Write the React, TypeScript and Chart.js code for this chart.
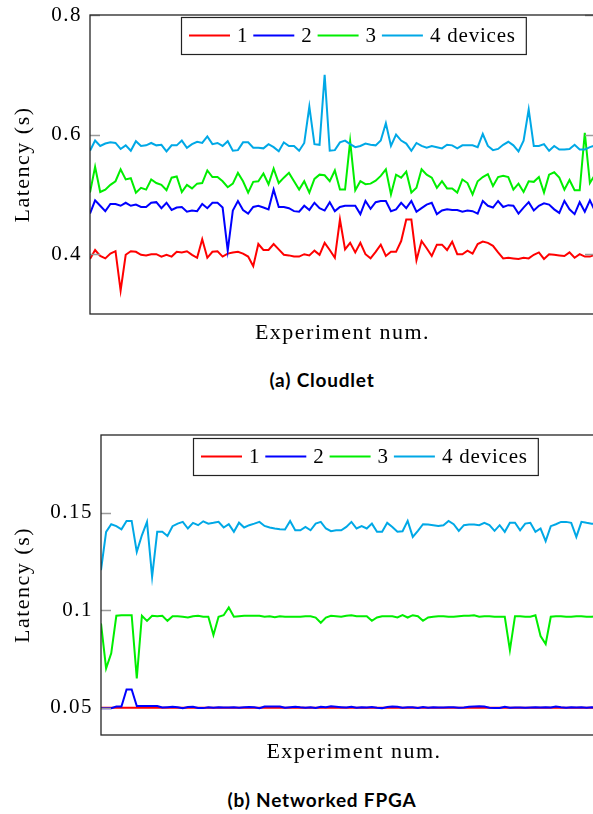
import React, { useEffect, useRef } from 'react';
import { Chart, registerables } from 'chart.js';

Chart.register(...registerables);

const SERIF = '"Liberation Serif", "DejaVu Serif", serif';

const SERIES_LABELS = ['1', '2', '3', '4 devices'];
const SERIES_COLORS = ['#ff0000', '#0000ff', '#00ee00', '#00a8e6'];
const EXPERIMENTS = Array.from({ length: 100 }, (_, i) => i + 1);

// (a) Cloudlet latency (s)
const CLOUDLET_1 = [
  0.392, 0.407, 0.397, 0.393, 0.401, 0.405, 0.339, 0.399, 0.405, 0.404,
  0.399, 0.398, 0.400, 0.400, 0.396, 0.399, 0.396, 0.404, 0.403, 0.405,
  0.399, 0.394, 0.425, 0.394, 0.404, 0.405, 0.396, 0.401, 0.403, 0.404,
  0.401, 0.396, 0.380, 0.417, 0.407, 0.407, 0.417, 0.408, 0.399, 0.398,
  0.396, 0.396, 0.400, 0.398, 0.406, 0.399, 0.419, 0.407, 0.394, 0.458,
  0.408, 0.419, 0.403, 0.419, 0.400, 0.393, 0.404, 0.416, 0.397, 0.404,
  0.404, 0.422, 0.458, 0.458, 0.390, 0.422, 0.410, 0.397, 0.416, 0.416,
  0.407, 0.421, 0.400, 0.400, 0.406, 0.401, 0.417, 0.421, 0.419, 0.414,
  0.403, 0.393, 0.394, 0.393, 0.392, 0.394, 0.393, 0.399, 0.403, 0.392,
  0.400, 0.399, 0.398, 0.397, 0.403, 0.394, 0.400, 0.396, 0.396, 0.399,
];
const CLOUDLET_2 = [
  0.468, 0.490, 0.481, 0.472, 0.484, 0.484, 0.481, 0.486, 0.481, 0.483,
  0.479, 0.479, 0.486, 0.487, 0.477, 0.486, 0.474, 0.478, 0.479, 0.471,
  0.473, 0.472, 0.484, 0.477, 0.486, 0.486, 0.478, 0.406, 0.473, 0.489,
  0.474, 0.468, 0.479, 0.481, 0.478, 0.475, 0.508, 0.479, 0.479, 0.477,
  0.472, 0.471, 0.481, 0.474, 0.486, 0.477, 0.473, 0.487, 0.472, 0.479,
  0.481, 0.481, 0.481, 0.467, 0.489, 0.476, 0.487, 0.489, 0.489, 0.472,
  0.475, 0.486, 0.477, 0.489, 0.471, 0.477, 0.483, 0.486, 0.467, 0.473,
  0.475, 0.474, 0.474, 0.471, 0.473, 0.472, 0.468, 0.489, 0.481, 0.478,
  0.489, 0.479, 0.482, 0.481, 0.468, 0.478, 0.487, 0.473, 0.481, 0.485,
  0.483, 0.475, 0.469, 0.489, 0.475, 0.467, 0.487, 0.471, 0.490, 0.472,
];
const CLOUDLET_3 = [
  0.503, 0.546, 0.504, 0.508, 0.516, 0.522, 0.542, 0.525, 0.527, 0.503,
  0.511, 0.508, 0.525, 0.519, 0.516, 0.507, 0.528, 0.530, 0.504, 0.516,
  0.510, 0.518, 0.519, 0.540, 0.529, 0.529, 0.522, 0.512, 0.518, 0.536,
  0.522, 0.503, 0.521, 0.522, 0.535, 0.517, 0.543, 0.519, 0.528, 0.536,
  0.522, 0.508, 0.522, 0.503, 0.526, 0.533, 0.532, 0.522, 0.540, 0.508,
  0.508, 0.589, 0.507, 0.522, 0.517, 0.518, 0.523, 0.531, 0.542, 0.500,
  0.533, 0.528, 0.538, 0.503, 0.511, 0.542, 0.533, 0.528, 0.511, 0.522,
  0.510, 0.510, 0.503, 0.525, 0.519, 0.500, 0.522, 0.529, 0.534, 0.514,
  0.529, 0.531, 0.529, 0.508, 0.518, 0.504, 0.522, 0.521, 0.529, 0.503,
  0.533, 0.537, 0.528, 0.508, 0.524, 0.507, 0.507, 0.603, 0.519, 0.533,
];
const CLOUDLET_4 = [
  0.573, 0.590, 0.581, 0.585, 0.587, 0.586, 0.576, 0.582, 0.573, 0.589,
  0.581, 0.582, 0.586, 0.582, 0.583, 0.572, 0.582, 0.582, 0.590, 0.578,
  0.584, 0.588, 0.586, 0.597, 0.584, 0.586, 0.581, 0.589, 0.573, 0.574,
  0.587, 0.587, 0.578, 0.578, 0.577, 0.584, 0.579, 0.572, 0.587, 0.581,
  0.581, 0.573, 0.586, 0.647, 0.584, 0.583, 0.700, 0.573, 0.574, 0.587,
  0.590, 0.584, 0.579, 0.581, 0.585, 0.583, 0.582, 0.590, 0.619, 0.581,
  0.600, 0.590, 0.585, 0.573, 0.586, 0.581, 0.578, 0.581, 0.579, 0.577,
  0.583, 0.582, 0.577, 0.582, 0.582, 0.582, 0.579, 0.601, 0.581, 0.574,
  0.576, 0.583, 0.588, 0.582, 0.572, 0.590, 0.642, 0.581, 0.581, 0.584,
  0.573, 0.581, 0.575, 0.575, 0.576, 0.583, 0.575, 0.575, 0.579, 0.582,
];

// (b) Networked FPGA latency (s)
const FPGA_1 = [
  0.05, 0.05, 0.05, 0.05, 0.05, 0.05, 0.05, 0.05, 0.05, 0.05,
  0.05, 0.05, 0.05, 0.05, 0.05, 0.05, 0.05, 0.05, 0.05, 0.05,
  0.05, 0.05, 0.05, 0.05, 0.05, 0.05, 0.05, 0.05, 0.05, 0.05,
  0.05, 0.05, 0.05, 0.05, 0.05, 0.05, 0.05, 0.05, 0.05, 0.05,
  0.05, 0.05, 0.05, 0.05, 0.05, 0.05, 0.05, 0.05, 0.05, 0.05,
  0.05, 0.05, 0.05, 0.05, 0.05, 0.05, 0.05, 0.05, 0.05, 0.05,
  0.05, 0.05, 0.05, 0.05, 0.05, 0.05, 0.05, 0.05, 0.05, 0.05,
  0.05, 0.05, 0.05, 0.05, 0.05, 0.05, 0.05, 0.05, 0.05, 0.05,
  0.05, 0.05, 0.05, 0.05, 0.05, 0.05, 0.05, 0.05, 0.05, 0.05,
  0.05, 0.05, 0.05, 0.05, 0.05, 0.05, 0.05, 0.05, 0.05, 0.05,
];
const FPGA_2 = [
  0.0497, 0.0497, 0.0497, 0.0506, 0.0506, 0.0594, 0.0594, 0.0509, 0.0509, 0.0509,
  0.0509, 0.0509, 0.0501, 0.0503, 0.0505, 0.0503, 0.0498, 0.0504, 0.0505, 0.0499,
  0.0498, 0.0503, 0.0500, 0.0502, 0.0501, 0.0501, 0.0503, 0.0500, 0.0502, 0.0504,
  0.0502, 0.0498, 0.0506, 0.0506, 0.0506, 0.0506, 0.0500, 0.0503, 0.0505, 0.0502,
  0.0500, 0.0503, 0.0499, 0.0505, 0.0502, 0.0507, 0.0505, 0.0503, 0.0501, 0.0505,
  0.0500, 0.0502, 0.0501, 0.0504, 0.0500, 0.0498, 0.0504, 0.0506, 0.0505, 0.0500,
  0.0503, 0.0502, 0.0499, 0.0504, 0.0500, 0.0502, 0.0501, 0.0501, 0.0503, 0.0502,
  0.0500, 0.0501, 0.0505, 0.0506, 0.0507, 0.0506, 0.0500, 0.0499, 0.0499, 0.0505,
  0.0500, 0.0501, 0.0501, 0.0500, 0.0501, 0.0502, 0.0501, 0.0503, 0.0501, 0.0506,
  0.0502, 0.0500, 0.0503, 0.0501, 0.0502, 0.0500, 0.0503, 0.0501, 0.0502, 0.0501,
];
const FPGA_3 = [
  0.0933, 0.0702, 0.0779, 0.0972, 0.0975, 0.0975, 0.0975, 0.0650, 0.0972, 0.0946,
  0.0972, 0.0970, 0.0972, 0.0946, 0.0970, 0.0970, 0.0967, 0.0963, 0.0970, 0.0972,
  0.0967, 0.0967, 0.0873, 0.0967, 0.0975, 0.1015, 0.0967, 0.0970, 0.0972, 0.0972,
  0.0972, 0.0972, 0.0967, 0.0970, 0.0965, 0.0970, 0.0967, 0.0967, 0.0967, 0.0967,
  0.0970, 0.0970, 0.0963, 0.0936, 0.0963, 0.0972, 0.0970, 0.0967, 0.0972, 0.0975,
  0.0970, 0.0970, 0.0970, 0.0946, 0.0963, 0.0970, 0.0970, 0.0970, 0.0963, 0.0975,
  0.0963, 0.0975, 0.0970, 0.0946, 0.0963, 0.0967, 0.0970, 0.0970, 0.0967, 0.0967,
  0.0970, 0.0972, 0.0972, 0.0975, 0.0967, 0.0970, 0.0970, 0.0967, 0.0967, 0.0967,
  0.0796, 0.0970, 0.0970, 0.0967, 0.0967, 0.0975, 0.0868, 0.0827, 0.0967, 0.0970,
  0.0970, 0.0967, 0.0967, 0.0970, 0.0970, 0.0967, 0.0967, 0.0970, 0.0970, 0.0970,
];
const FPGA_4 = [
  0.1206, 0.1403, 0.1442, 0.1432, 0.1416, 0.1459, 0.1459, 0.1300, 0.1385, 0.1454,
  0.1172, 0.1403, 0.1403, 0.1382, 0.1432, 0.1445, 0.1454, 0.1420, 0.1449, 0.1437,
  0.1457, 0.1445, 0.1449, 0.1454, 0.1425, 0.1442, 0.1403, 0.1450, 0.1425, 0.1437,
  0.1445, 0.1454, 0.1433, 0.1425, 0.1420, 0.1416, 0.1415, 0.1459, 0.1411, 0.1411,
  0.1428, 0.1411, 0.1445, 0.1454, 0.1420, 0.1406, 0.1411, 0.1411, 0.1428, 0.1454,
  0.1420, 0.1432, 0.1420, 0.1445, 0.1403, 0.1403, 0.1449, 0.1428, 0.1403, 0.1406,
  0.1459, 0.1377, 0.1408, 0.1442, 0.1440, 0.1437, 0.1433, 0.1437, 0.1459, 0.1442,
  0.1408, 0.1437, 0.1440, 0.1440, 0.1437, 0.1449, 0.1437, 0.1408, 0.1437, 0.1403,
  0.1450, 0.1450, 0.1411, 0.1445, 0.1449, 0.1403, 0.1420, 0.1355, 0.1432, 0.1442,
  0.1454, 0.1454, 0.1449, 0.1377, 0.1454, 0.1449, 0.1445, 0.1445, 0.1440, 0.1445,
];

const CLOUDLET_Y_TICKS = [0.4, 0.6, 0.8];
const CLOUDLET_Y_LABELS = ['0.4', '0.6', '0.8'];
const FPGA_Y_TICKS = [0.05, 0.1, 0.15];
const FPGA_Y_LABELS = ['0.05', '0.1', '0.15'];

const frameLegendPlugin = {
  id: 'frameLegend',
  beforeDraw(chart: any) {
    chart.ctx.letterSpacing = '1.5px';
  },
  afterDatasetsDraw(chart: any, _args: any, opts: any) {
    const { ctx, chartArea: a } = chart;
    const ys = chart.scales.y;
    ctx.save();
    // inward tick marks on left and right
    ctx.strokeStyle = '#9a9a9a';
    ctx.lineWidth = 1.5;
    ys.ticks.forEach((t: any) => {
      const py = Math.round(ys.getPixelForValue(t.value)) + 0.5;
      ctx.beginPath();
      ctx.moveTo(a.left, py);
      ctx.lineTo(a.left + 10, py);
      ctx.moveTo(a.right, py);
      ctx.lineTo(a.right - 10, py);
      ctx.stroke();
    });
    // frame
    ctx.strokeStyle = '#262626';
    ctx.lineWidth = 1.3;
    ctx.strokeRect(a.left, a.top, a.right - a.left, a.bottom - a.top);

    // legend
    ctx.font = `21px ${SERIF}`;
    ctx.letterSpacing = '0.8px';
    const left = a.left + opts.dx;
    const top = a.top + opts.dy;
    const h = 37;
    const yc = top + h / 2;
    let x = left + 8;
    const items: any[] = [];
    chart.data.datasets.forEach((ds: any) => {
      const w = ctx.measureText(ds.label).width;
      items.push({ x, label: ds.label, color: ds.borderColor, w });
      x += 41 + 7 + w + 5;
    });
    const boxW = x - left + 5;
    ctx.fillStyle = '#ffffff';
    ctx.fillRect(left, top, boxW, h);
    ctx.strokeStyle = '#222';
    ctx.lineWidth = 1.2;
    ctx.strokeRect(left + 0.5, top + 0.5, boxW, h);
    items.forEach((it) => {
      ctx.strokeStyle = it.color;
      ctx.lineWidth = 2;
      ctx.beginPath();
      ctx.moveTo(it.x, yc);
      ctx.lineTo(it.x + 41, yc);
      ctx.stroke();
      ctx.fillStyle = '#000';
      ctx.textAlign = 'left';
      ctx.textBaseline = 'middle';
      ctx.fillText(it.label, it.x + 48, yc + 1);
    });
    ctx.restore();
  },
};

type Props = {
  series: number[][];
  yMin: number;
  yMax: number;
  yTicks: number[];
  yLabels: string[];
  width: number;
  height: number;
  plotLeft: number;
  plotRight: number;
  xTitlePad: number;
  legendDx: number;
  legendDy: number;
};

function LatencyChart(p: Props) {
  const ref = useRef<HTMLCanvasElement>(null);
  useEffect(() => {
    const chart = new Chart(ref.current as HTMLCanvasElement, {
      type: 'line',
      data: {
        datasets: p.series.map((s, k) => ({
          label: SERIES_LABELS[k],
          data: s.map((v, i) => ({ x: EXPERIMENTS[i], y: v })),
          borderColor: SERIES_COLORS[k],
          backgroundColor: SERIES_COLORS[k],
          borderWidth: 2,
          pointRadius: 0,
          tension: 0,
          fill: false,
          order: 4 - k,
        })),
      },
      options: {
        animation: false,
        responsive: false,
        events: [],
        layout: { padding: { top: 15, right: p.width - p.plotRight, left: 0, bottom: 0 } },
        plugins: {
          legend: { display: false },
          tooltip: { enabled: false },
          frameLegend: { dx: p.legendDx, dy: p.legendDy },
        } as any,
        scales: {
          x: {
            type: 'linear',
            min: EXPERIMENTS[0],
            max: EXPERIMENTS[EXPERIMENTS.length - 1],
            grid: { display: false, drawTicks: false },
            border: { display: false },
            ticks: { display: false },
            title: {
              display: true,
              text: 'Experiment num.',
              color: '#000',
              font: { family: SERIF, size: 22 },
              padding: { top: 0, bottom: p.xTitlePad },
            },
            afterFit: (ax: any) => {
              ax.height = 40;
              ax.paddingLeft = 0;
              ax.paddingRight = 0;
            },
          },
          y: {
            type: 'linear',
            min: p.yMin,
            max: p.yMax,
            grid: { display: false, drawTicks: false },
            border: { display: false },
            ticks: {
              color: '#000',
              padding: 8,
              font: { family: SERIF, size: 21 },
              callback: (v: any) => {
                const k = p.yTicks.indexOf(Number(v));
                return k >= 0 ? p.yLabels[k] : '';
              },
            },
            afterBuildTicks: (ax: any) => {
              ax.ticks = p.yTicks.map((v) => ({ value: v }));
            },
            afterFit: (ax: any) => {
              ax.width = p.plotLeft;
              ax.paddingTop = 0;
              ax.paddingBottom = 0;
            },
            title: {
              display: true,
              text: 'Latency (s)',
              color: '#000',
              font: { family: SERIF, size: 22 },
              padding: { top: 10, bottom: 0 },
            },
          },
        },
      },
      plugins: [frameLegendPlugin],
    } as any);
    return () => chart.destroy();
  }, []);
  return (
    <canvas
      ref={ref}
      width={p.width}
      height={p.height}
      style={{ display: 'block', width: p.width, height: p.height }}
    />
  );
}

const captionStyle: React.CSSProperties = {
  position: 'absolute',
  left: 0,
  width: 644,
  textAlign: 'center',
  fontFamily: 'Lato, "Noto Sans", sans-serif',
  fontWeight: 700,
  fontSize: 19,
  letterSpacing: '0.8px',
  lineHeight: '20px',
  color: '#000',
};

export default function App() {
  return (
    <div
      style={{
        position: 'absolute',
        left: 0,
        top: 0,
        width: 593,
        height: 814,
        overflow: 'hidden',
        background: '#fff',
      }}
    >
      <div style={{ position: 'absolute', left: 0, top: 0 }}>
        <LatencyChart
          series={[CLOUDLET_1, CLOUDLET_2, CLOUDLET_3, CLOUDLET_4]}
          yMin={0.3}
          yMax={0.8}
          yTicks={CLOUDLET_Y_TICKS}
          yLabels={CLOUDLET_Y_LABELS}
          width={600}
          height={354}
          plotLeft={90}
          plotRight={595}
          xTitlePad={8}
          legendDx={91}
          legendDy={2}
        />
      </div>
      <div style={{ ...captionStyle, top: 370 }}>(a) Cloudlet</div>
      <div style={{ position: 'absolute', left: 0, top: 420 }}>
        <LatencyChart
          series={[FPGA_1, FPGA_2, FPGA_3, FPGA_4]}
          yMin={0.036}
          yMax={0.19}
          yTicks={FPGA_Y_TICKS}
          yLabels={FPGA_Y_LABELS}
          width={612}
          height={355}
          plotLeft={101}
          plotRight={607}
          xTitlePad={10}
          legendDx={92}
          legendDy={3}
        />
      </div>
      <div style={{ ...captionStyle, top: 790 }}>(b) Networked FPGA</div>
    </div>
  );
}
